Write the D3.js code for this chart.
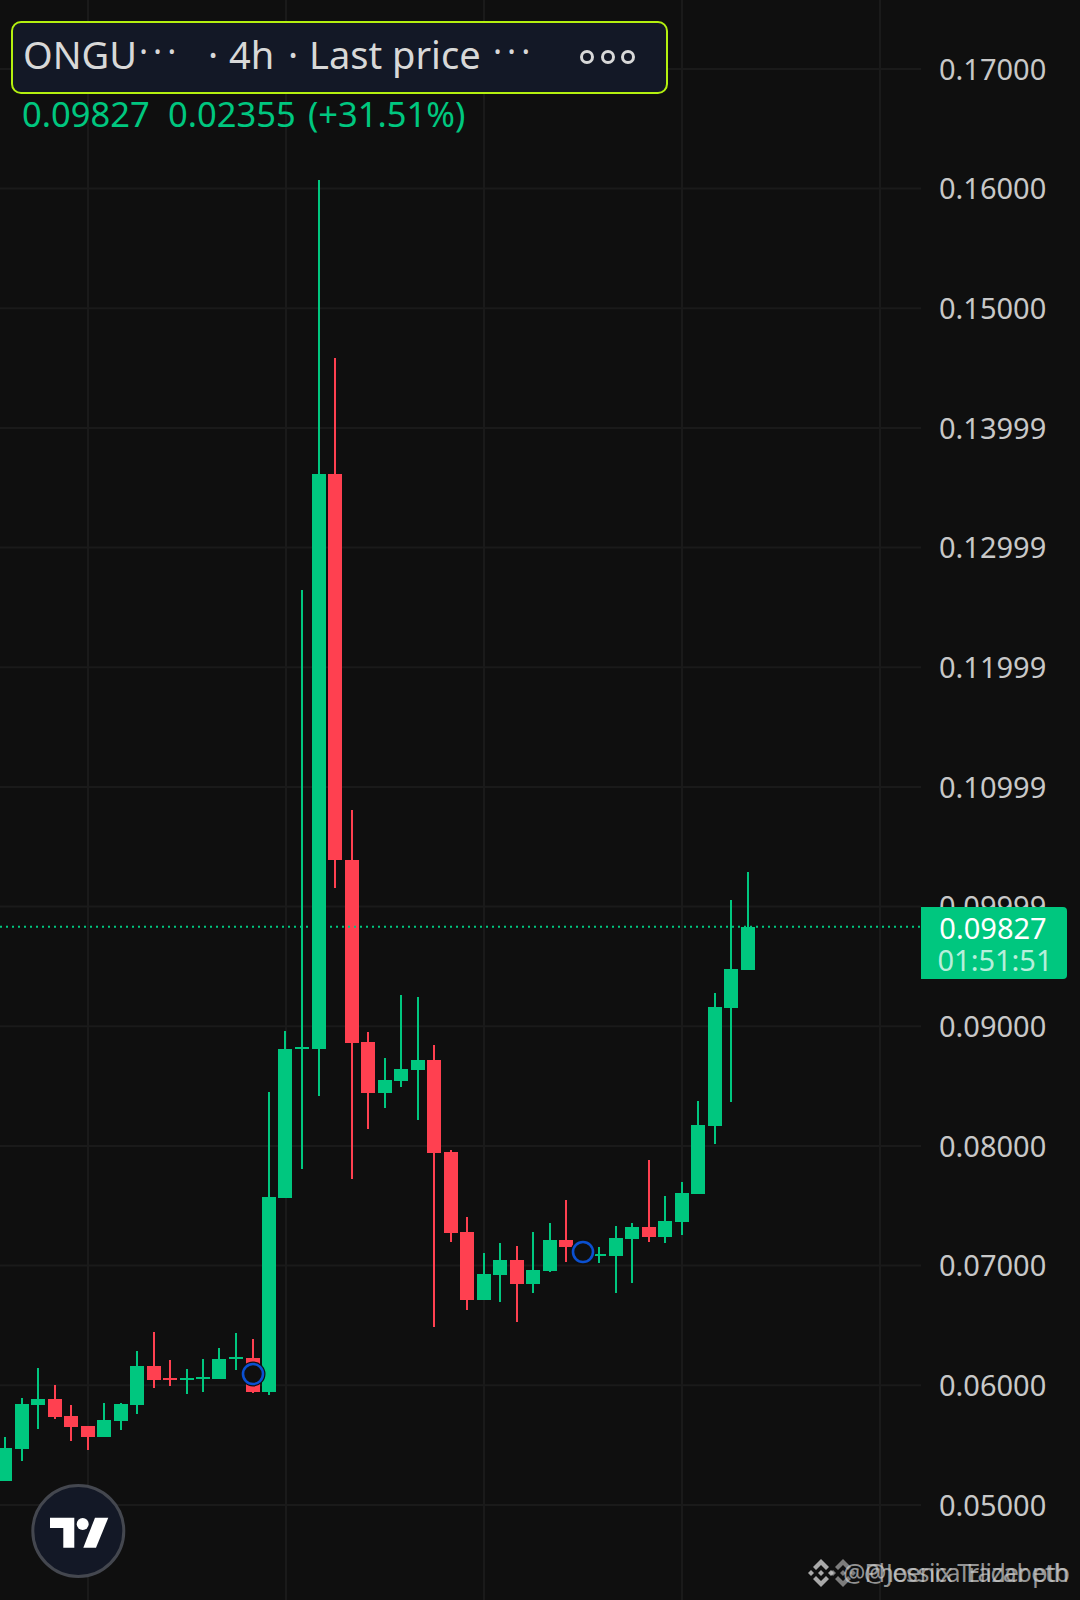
<!DOCTYPE html>
<html>
<head>
<meta charset="utf-8">
<script src="https://cdn.jsdelivr.net/npm/d3@7"></script>
<style>
  html, body { margin: 0; padding: 0; background: #0f0f0f; }
  svg { display: block; }
  text { font-family: "Noto Sans", sans-serif; }
</style>
</head>
<body>
<svg id="chart"></svg>
<script>
let w = 1080
let h = 1600

let opens = [.05198,.05465,.05833,.05883,.05741,.05658,.05566,.05699,.05833,.06159,.06059,.06042,.06050,.06050,.06217,.06226,.05942,.07563,.08808,.08808,.13612,.10387,.08866,.08440,.08540,.08632,.08716,.07947,.07279,.06710,.06919,.07045,.06844,.06953,.07212,.07112,.07078,.07078,.07220,.07320,.07237,.07362,.07596,.08164,.09150,.09468]
let highs = [.05566,.05892,.06142,.06000,.05833,.05658,.05850,.05850,.06284,.06443,.06209,.06134,.06217,.06309,.06435,.06385,.08449,.08958,.12643,.16069,.14582,.10805,.08950,.08733,.09259,.09242,.08841,.07964,.07404,.07103,.07187,.07162,.07279,.07354,.07546,.07187,.07153,.07329,.07354,.07880,.07579,.07696,.08373,.09276,.10053,.10287]
let lows = [.05198,.05365,.05633,.05716,.05532,.05457,.05566,.05624,.05758,.05975,.05992,.05925,.05942,.06050,.06126,.05933,.05917,.07563,.07805,.08415,.10153,.07722,.08139,.08315,.08490,.08215,.06485,.07195,.06627,.06710,.06694,.06527,.06769,.06944,.07028,.07061,.07020,.06769,.06853,.07195,.07187,.07254,.07596,.08014,.08365,.09468]
let closes = [.05474,.05841,.05883,.05733,.05649,.05566,.05708,.05841,.06159,.06042,.06042,.06059,.06067,.06217,.06234,.05942,.07571,.08808,.08825,.13612,.10387,.08858,.08440,.08549,.08641,.08716,.07939,.07270,.06710,.06928,.07045,.06844,.06961,.07212,.07153,.07128,.07095,.07229,.07320,.07237,.07371,.07605,.08173,.09159,.09476,.09827]

let tickValues = [.17,.16,.15,.14,.13,.12,.11,.10,.09,.08,.07,.06,.05]
let tickLabels = ['0.17000','0.16000','0.15000','0.13999','0.12999','0.11999','0.10999','0.09999','0.09000','0.08000','0.07000','0.06000','0.05000']
let markerBars = [15, 35]
let lastPrice = 0.09827

let green = '#00c77f'
let red = '#ff4050'
let gridColor = '#1a1a1a'

let svg = d3.select('#chart').attr('width', w).attr('height', h)

let xScale = d3.scaleLinear().domain([0, 45]).range([5, 747.5])
let yScale = d3.scaleLinear().domain([0.05, 0.17]).range([1504.4, 68.4])

let gridXScale = d3.scaleLinear().domain([0, 4]).range([88, 880])

let barX = (i) => Math.round(xScale(i))

let drawGrid = () => {
  svg.append('g').selectAll('line')
     .data(d3.range(5))
     .enter().append('line')
     .attr('x1', (d) => gridXScale(d))
     .attr('x2', (d) => gridXScale(d))
     .attr('y1', 0).attr('y2', h)
     .attr('stroke', gridColor).attr('stroke-width', 2)

  let axis = d3.axisRight(yScale)
               .tickValues(tickValues)
               .tickFormat((d, i) => tickLabels[i])
               .tickSize(921)
               .tickPadding(18)
  let g = svg.append('g').call(axis)
  g.select('.domain').remove()
  g.selectAll('line').attr('stroke', gridColor).attr('stroke-width', 2)
  g.selectAll('text')
   .attr('dy', '0.37em')
   .attr('fill', '#c8c8c8')
   .style('font-size', '29px')
   .style('font-family', '"Noto Sans", sans-serif')
}

let drawCandles = () => {
  let bars = d3.range(opens.length)
  let color = (i) => closes[i] >= opens[i] ? green : red
  let bw = 14

  svg.append('g').selectAll('line')
     .data(bars)
     .enter().append('line')
     .attr('x1', barX)
     .attr('x2', barX)
     .attr('y1', (i) => yScale(highs[i]))
     .attr('y2', (i) => yScale(lows[i]))
     .attr('stroke', color).attr('stroke-width', 2)
     .attr('shape-rendering', 'crispEdges')

  svg.append('g').selectAll('rect')
     .data(bars)
     .enter().append('rect')
     .attr('x', (i) => barX(i) - bw / 2)
     .attr('y', (i) => yScale(Math.max(opens[i], closes[i])))
     .attr('width', bw)
     .attr('height', (i) => Math.abs(yScale(opens[i]) - yScale(closes[i])))
     .attr('fill', color)
     .attr('shape-rendering', 'crispEdges')
}

let drawLastPrice = () => {
  let y = yScale(lastPrice)
  svg.append('line')
     .attr('x1', 0).attr('x2', 921)
     .attr('y1', y).attr('y2', y)
     .attr('stroke', green).attr('stroke-width', 2)
     .attr('stroke-dasharray', '2 4')

  svg.append('path')
     .attr('d', 'M921,907H1063a4,4 0 0 1 4,4V975a4,4 0 0 1 -4,4H921Z')
     .attr('fill', green)
  svg.append('text').attr('x', 993).attr('y', 939)
     .attr('text-anchor', 'middle').attr('fill', '#fff')
     .style('font-size', '29px')
     .text('0.09827')
  svg.append('text').attr('x', 995).attr('y', 971)
     .attr('text-anchor', 'middle').attr('fill', '#fff').attr('fill-opacity', 0.72)
     .style('font-size', '29px')
     .text('01:51:51')
}

// blue rings sitting on two of the candles
let drawMarkers = () => {
  let cy = {15: 1374, 35: 1252}
  svg.append('g').selectAll('circle')
     .data(markerBars)
     .enter().append('circle')
     .attr('cx', barX)
     .attr('cy', (i) => cy[i])
     .attr('r', 12.5)
     .attr('fill', '#0f0f0f')
  svg.append('g').selectAll('circle')
     .data(markerBars)
     .enter().append('circle')
     .attr('cx', barX)
     .attr('cy', (i) => cy[i])
     .attr('r', 10)
     .attr('fill', 'none')
     .attr('stroke', '#0b50d0').attr('stroke-width', 2.6)
}

let drawHeader = () => {
  svg.append('rect')
     .attr('x', 12).attr('y', 22).attr('width', 655).attr('height', 71).attr('rx', 9)
     .attr('fill', '#131826').attr('stroke', '#b4f00f').attr('stroke-width', 2)

  let head = [['ONGU', 23], ['·', 208], ['4h', 229], ['·', 288], ['Last price', 309]]
  svg.append('g').selectAll('text')
     .data(head)
     .enter().append('text')
     .attr('x', (d) => d[1]).attr('y', 69)
     .attr('fill', '#d8d8d8')
     .style('font-size', '38px')
     .text((d) => d[0])

  // the cut-off marks sit a bit higher than the middle dots
  svg.append('g').selectAll('text')
     .data([['···', 139], ['···', 493]])
     .enter().append('text')
     .attr('x', (d) => d[1]).attr('y', 64)
     .attr('fill', '#d8d8d8')
     .style('font-size', '34px')
     .style('letter-spacing', '5px')
     .text((d) => d[0])

  svg.append('g').selectAll('circle')
     .data([587, 608, 628])
     .enter().append('circle')
     .attr('cx', (d) => d).attr('cy', 57).attr('r', 5.5)
     .attr('fill', 'none').attr('stroke', '#d8d8d8').attr('stroke-width', 3)

  let sub = [['0.09827', 22], ['0.02355', 168], ['(+31.51%)', 308]]
  svg.append('g').selectAll('text')
     .data(sub)
     .enter().append('text')
     .attr('x', (d) => d[1]).attr('y', 127)
     .attr('fill', green)
     .style('font-size', '34.5px')
     .text((d) => d[0])
}

let drawLogo = () => {
  let g = svg.append('g').attr('transform', 'translate(78.3,1531)')
  g.append('circle').attr('r', 45.5).attr('fill', '#131826').attr('stroke', '#44474f').attr('stroke-width', 3)
  g.append('path').attr('d', 'M-28.3,-13.3H-4V16.7H-15V-3H-28.3Z').attr('fill', '#fff')
  g.append('circle').attr('cx', 4.4).attr('cy', -7).attr('r', 6).attr('fill', '#fff')
  g.append('path').attr('d', 'M16.7,-13.3H30L17.7,16.7H5Z').attr('fill', '#fff')
}

// two watermarks printed on top of each other
let drawWatermark = () => {
  let diamond = (cx, cy, op) => {
    let g = svg.append('g').attr('transform', `translate(${cx},${cy})`).attr('fill', '#c4c4c4').attr('fill-opacity', op)
    g.append('path').attr('d', 'M0,-14L8,-6L5,-3L0,-8L-5,-3L-8,-6Z')
    g.append('path').attr('d', 'M0,14L8,6L5,3L0,8L-5,3L-8,6Z')
    g.append('path').attr('d', 'M-13,0L-10,-3L-7,0L-10,3Z')
    g.append('path').attr('d', 'M13,0L10,-3L7,0L10,3Z')
    g.append('path').attr('d', 'M0,-3L3,0L0,3L-3,0Z')
  }
  diamond(821, 1573, 0.85)
  diamond(843, 1573, 0.6)
  svg.append('text').attr('x', 843).attr('y', 1582)
     .attr('fill', '#d0d0d0').attr('fill-opacity', 0.7)
     .attr('textLength', 227).attr('lengthAdjust', 'spacing')
     .style('font-size', '25px')
     .text('@Phoenix Trader ptb')
  svg.append('text').attr('x', 864).attr('y', 1582)
     .attr('fill', '#d0d0d0').attr('fill-opacity', 0.7)
     .attr('textLength', 205).attr('lengthAdjust', 'spacing')
     .style('font-size', '25px')
     .text('@Jessica Elizabeth')
}

drawGrid()
drawCandles()
drawLastPrice()
drawMarkers()
drawHeader()
drawLogo()
drawWatermark()
</script>
</body>
</html>
